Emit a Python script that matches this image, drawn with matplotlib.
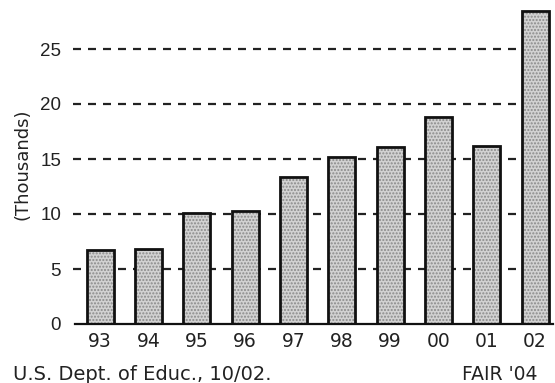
import matplotlib
matplotlib.use("Agg")
import matplotlib.pyplot as plt

years = ["93", "94", "95", "96", "97", "98", "99", "00", "01", "02"]
values = [6.7, 6.8, 10.1, 10.3, 13.4, 15.2, 16.1, 18.8, 16.2, 28.5]
yticks = [0, 5, 10, 15, 20, 25]

plt.rcParams['font.family'] = ['Liberation Sans', 'DejaVu Sans']

fig = plt.figure(figsize=(5.55, 3.83), dpi=100)
ax = fig.add_axes([75/555, 59/383, 478/555, 319/383])
x = list(range(len(years)))

# gridlines (end where the last bar starts)
for t in yticks[1:]:
    ax.axhline(t, xmin=-0.005, xmax=0.935, color='#222222', lw=1.6,
               dashes=(3.6, 3.15), zorder=1, clip_on=False)

# speckled fill
ax.bar(x, values, width=0.56, color='#d2d2d2', edgecolor='#8a8a8a',
       hatch='.....', lw=0, zorder=2)
ax.bar(x, values, width=0.56, fill=False, edgecolor='#111111', lw=2.0, zorder=3)

ax.set_xlim(-0.52, 9.37)
ax.set_ylim(0, 29)
ax.set_yticks(yticks)
ax.set_xticks(x)
ax.set_xticklabels(years, family=['DejaVu Sans'], fontsize=13.5)
for s in ['top', 'right', 'left']:
    ax.spines[s].set_visible(False)
ax.spines['bottom'].set_linewidth(1.6)
ax.spines['bottom'].set_color('#111111')
ax.tick_params(axis='both', length=0, labelsize=13.5, colors='#222222')
ax.tick_params(axis='y', pad=10)
ax.tick_params(axis='x', pad=6)
ax.set_ylabel('(Thousands)', fontsize=13, color='#222222', labelpad=6,
              family=['DejaVu Sans'])

fig.text(13/555, 1 - 380/383, 'U.S. Dept. of Educ., 10/02.', fontsize=14,
         color='#222222', va='baseline', ha='left', family=['DejaVu Sans'])
fig.text(538/555, 1 - 380/383, "FAIR '04", fontsize=13.5,
         color='#222222', va='baseline', ha='right', family=['DejaVu Sans'])

fig.savefig('out.png', dpi=100)
